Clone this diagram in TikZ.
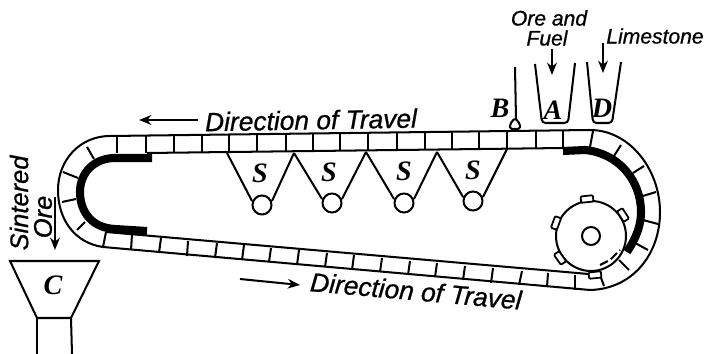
\documentclass[tikz,border=0pt]{standalone}
\usepackage{fontspec}
\setsansfont{Liberation Sans}[ItalicFeatures={FakeBold=0.8}]
\newfontfamily\platefont{Liberation Serif}
\usepackage{tikz}

\tikzset{
  belt/.style={line width=1.15pt},
  tick/.style={line width=1.15pt},
  shoe/.style={line width=4.6pt},
  hand/.style={font=\sffamily\itshape\fontsize{15}{15}\selectfont, inner sep=0pt},
  smallhand/.style={font=\sffamily\itshape\fontsize{12}{12}\selectfont, inner sep=0pt},
  letter/.style={font=\platefont\bfseries\itshape\fontsize{16}{16}\selectfont, inner sep=0pt},
  flow/.style={line width=1.15pt, -{Stealth[length=7pt,width=5.5pt]}},
  lug/.style={draw, line width=1pt, fill=white, rounded corners=0.6pt, minimum width=7pt, minimum height=3.6pt, inner sep=0pt}
}

\usetikzlibrary{arrows.meta}

\begin{document}
\begin{tikzpicture}[x=0.02cm,y=-0.02cm]

\useasboundingbox (0,0) rectangle (707,354);

%%%%%% Belt
\draw[belt] (110,136)--(590,130) .. controls (630,130) and (660,170) .. (660,212) .. controls (660,255) and (632,289) .. (590,290)--(103,247) .. controls (75,243) and (58,220) .. (58,190) .. controls (58,160) and (80,136) .. (110,136);
\draw[belt] (147,153)--(565,148); \draw[belt] (106,232)--(600,275);

\draw[shoe] (152,158)--(115,158) .. controls (95,158) and (80,172) .. (80,192) .. controls (80,212) and (92,228) .. (115,229)--(147,231);
\draw[shoe] (563,151)--(585,150) .. controls (618,153) and (641,180) .. (641,212) .. controls (641,226) and (636,238) .. (627,252);

%%%%%% Cells, top run
\draw[tick] (117,136)--(117,153); \draw[tick] (146,135.5)--(146,153); \draw[tick] (174,135)--(174,153); \draw[tick] (202,135)--(202,152); \draw[tick] (229,134.5)--(229,152); \draw[tick] (257,134)--(257,152); \draw[tick] (286,134)--(286,151); \draw[tick] (313,133.5)--(313,151); \draw[tick] (340,133)--(340,151); \draw[tick] (368,133)--(368,150); \draw[tick] (397,132.5)--(397,150); \draw[tick] (425,132)--(425,150); \draw[tick] (452,132)--(452,149); \draw[tick] (479,131.5)--(479,149); \draw[tick] (507,131)--(507,149); \draw[tick] (536,130.5)--(536,148); \draw[tick] (563,130.5)--(563,148);

%%%%%% Cells, right end
\draw[tick] (593,131)--(590,147); \draw[tick] (621,145)--(614,156); \draw[tick] (644,166)--(633,173); \draw[tick] (656,192)--(643,196); \draw[tick] (658,224)--(643,220); \draw[tick] (648,250)--(635,243); \draw[tick] (629,270)--(619,260); \draw[tick] (604,286)--(600,275);

%%%%%% Cells, bottom run
\draw[tick] (575,290)--(575,275); \draw[tick] (547,287)--(548,273); \draw[tick] (519,285)--(522,271); \draw[tick] (491,283)--(493,268); \draw[tick] (463,280)--(465,266); \draw[tick] (435,277)--(437,263); \draw[tick] (408,275)--(410,261); \draw[tick] (380,272)--(382,258); \draw[tick] (352,270)--(354,255); \draw[tick] (325,267)--(327,253); \draw[tick] (297,265)--(299,250); \draw[tick] (269,262)--(271,248); \draw[tick] (242,260)--(244,245); \draw[tick] (215,258)--(217,243); \draw[tick] (187,256)--(188,241); \draw[tick] (159,253)--(161,238); \draw[tick] (131,250)--(132,235); \draw[tick] (103,247)--(106,232);

%%%%%% Cells, left end
\draw[tick] (77,230)--(85,222); \draw[tick] (62,202)--(76,199); \draw[tick] (63,172)--(78,178); \draw[tick] (87,147)--(94,159);

%%%%%% Wind boxes
\draw[belt] (227,153)--(252,201); \draw[belt] (294,153)--(272,201); \draw[belt] (294,153)--(322,199); \draw[belt] (366,152)--(342,199); \draw[belt] (366,152)--(394,199); \draw[belt] (437,152)--(414,199); \draw[belt] (437,152)--(463,197); \draw[belt] (507,149)--(483,197);

\draw[belt] (262,205) circle [radius=9.5]; \draw[belt] (332,203) circle [radius=9.5]; \draw[belt] (404,203) circle [radius=9.5]; \draw[belt] (473,201) circle [radius=9.5];

\node[letter] (s1) at (260,173) {S}; \node[letter] (s2) at (329,172) {S}; \node[letter] (s3) at (404,171) {S}; \node[letter] (s4) at (473,170) {S};

%%%%%% Drum
\draw[belt, fill=white] (591,236) circle [radius=35]; \draw[belt] (591,236) circle [radius=9];
\node[lug, rotate=6] (lug1) at (587,199) {}; \node[lug, rotate=-57] (lug2) at (623,215) {}; \node[lug, rotate=70] (lug3) at (556,223) {}; \node[lug, rotate=-55] (lug4) at (560,258) {}; \node[lug, rotate=6] (lug5) at (595,275) {};
\draw[belt, dash pattern=on 5pt off 2pt] (600,265)--(610,260)--(620,250);

%%%%%% Hoppers
\draw[belt, rounded corners=2pt] (535,64)--(542,123)--(568,123)--(575,63);
\draw[belt, rounded corners=2pt] (587,62)--(593,123)--(612,123)--(621,62);
\draw[belt] (515,67)--(516,119);
\draw[belt, fill=white, rounded corners=1pt] (510,129)--(510,124)--(515,118)--(520,124)--(520,129)--cycle;

\node[letter] (hopA) at (553,110) {A}; \node[letter] (hopD) at (602,108) {D}; \node[letter] (gateB) at (500,108) {B};

\node[smallhand] (ore1) at (549,18) {Ore and}; \node[smallhand] (fuel) at (547,38) {Fuel};
\node[smallhand] (lime) at (655,36) {Limestone};
\coordinate (f1) at (552,49); \coordinate (f2) at (552,75); \coordinate (l1) at (603,43); \coordinate (l2) at (603,73);
\draw[flow] (f1)--(f2); \draw[flow] (l1)--(l2);

%%%%%% Travel
\node[hand, rotate=1] (top) at (311,120) {Direction of Travel};
\node[hand, rotate=-5] (bot) at (416,291) {Direction of Travel};
\coordinate (t1) at (198,120); \coordinate (t2) at (139,120); \coordinate (b1) at (240,279); \coordinate (b2) at (300,285);
\draw[flow] (t1)--(t2); \draw[flow] (b1)--(b2);

%%%%%% Discharge
\node[hand, rotate=90, font=\sffamily\itshape\fontsize{14.5}{14.5}\selectfont] (sint) at (19,203) {Sintered};
\node[hand, rotate=90, font=\sffamily\itshape\fontsize{14.5}{14.5}\selectfont] (ore) at (43,217) {Ore};
\coordinate (d1) at (55,197); \coordinate (d2) at (55,250);
\draw[flow] (d1)--(d2);

\draw[belt] (10,261)--(99,261)--(71,318)--(37,318)--cycle;
\draw[belt] (37,318)--(37,354); \draw[belt] (71,318)--(72,354);
\node[letter] (binC) at (53,285) {C};

\end{tikzpicture}
\end{document}
